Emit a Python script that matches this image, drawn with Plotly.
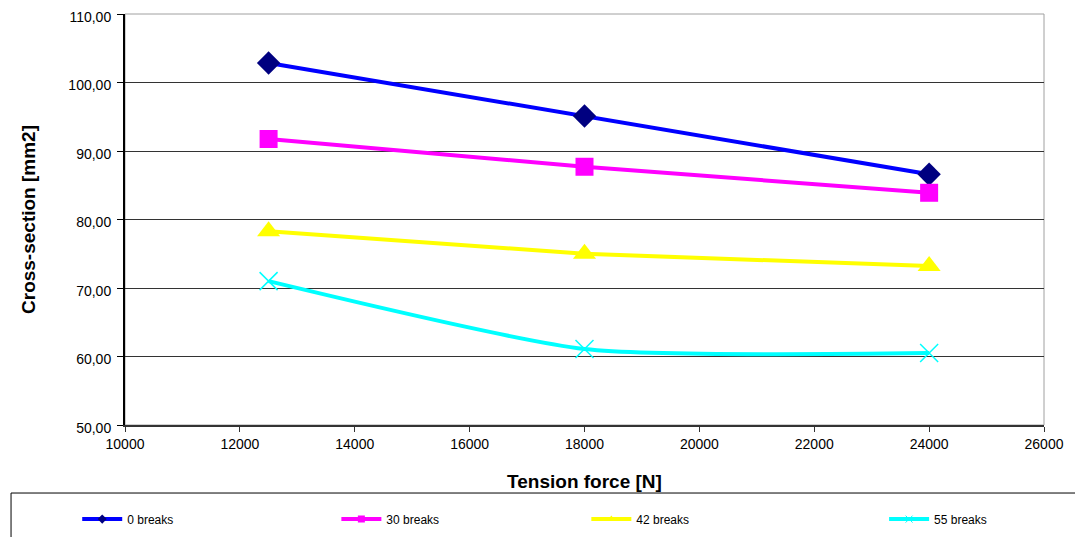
import plotly.graph_objects as go

x_force = [12500, 18000, 24000]
breaks_0 = [102.85, 95.1, 86.6]
breaks_30 = [91.75, 87.7, 83.9]
breaks_42 = [78.3, 75.0, 73.2]
breaks_55 = [71.0, 61.1, 60.5]
series_names = ["0 breaks", "30 breaks", "42 breaks", "55 breaks"]

x_ticks = [10000, 12000, 14000, 16000, 18000, 20000, 22000, 24000, 26000]
y_ticks = [50, 60, 70, 80, 90, 100, 110]

styles = [
    dict(line=dict(color="#0000FF", width=4), symbol="diamond", size=18, mcolor="#000080"),
    dict(line=dict(color="#FF00FF", width=4), symbol="square", size=18, mcolor="#FF00FF"),
    dict(line=dict(color="#FFFF00", width=4), symbol="triangle-up", size=20, mcolor="#FFFF00"),
    dict(line=dict(color="#00FFFF", width=4, shape="spline", smoothing=0.6), symbol="x-thin",
         size=18, mcolor="#00FFFF"),
]
series = [breaks_0, breaks_30, breaks_42, breaks_55]
legend_ids = ["legend", "legend2", "legend3", "legend4"]
legend_x = [-0.052, 0.23, 0.502, 0.826]

fig = go.Figure()
for name, vals, st in zip(series_names, series, styles):
    fig.add_trace(go.Scatter(x=x_force, y=vals, name=name, mode="lines+markers",
                             line=st["line"], showlegend=False,
                             marker=dict(symbol=st["symbol"], size=st["size"], color=st["mcolor"],
                                         line=dict(width=1.5 if st["symbol"] == "x-thin" else 0,
                                                   color=st["mcolor"]))))
# legend entries with small markers
for name, st, lid in zip(series_names, styles, legend_ids):
    fig.add_trace(go.Scatter(x=[None], y=[None], name=name, mode="lines+markers",
                             line=dict(color=st["line"]["color"], width=4), legend=lid,
                             marker=dict(symbol=st["symbol"], size=7, color=st["mcolor"],
                                         line=dict(width=1 if st["symbol"] == "x-thin" else 0,
                                                   color=st["mcolor"]))))

# plot area border (gray) and legend box
fig.add_shape(type="rect", xref="paper", yref="paper", x0=0, x1=1, y0=0, y1=1,
              line=dict(color="#A0A0A0", width=1), layer="below")
fig.add_shape(type="rect", xref="paper", yref="paper", x0=-0.124, x1=1.2, y0=-0.1655, y1=-0.4,
              line=dict(color="black", width=1))

legend_common = dict(orientation="h", xanchor="left", y=-0.229, yanchor="middle",
                     font=dict(size=12), bgcolor="rgba(0,0,0,0)", itemwidth=40)

fig.update_layout(
    width=1083, height=537,
    margin=dict(l=117, r=47, t=6, b=120, autoexpand=False),
    paper_bgcolor="white", plot_bgcolor="white",
    separators=",.",
    font=dict(family="Liberation Sans, Arial, sans-serif", size=14, color="black"),
    showlegend=True,
    xaxis=dict(range=[10000, 26000], tickvals=x_ticks, tickformat="d", automargin=False,
               showgrid=False, zeroline=False, showline=True, linecolor="#333333", linewidth=2,
               ticks="outside", ticklen=5, tickcolor="#333333", tickfont=dict(size=14),
               ticklabeloverflow="allow",
               title=dict(text="<b>Tension force [N]</b>", font=dict(size=19), standoff=24)),
    yaxis=dict(range=[50, 110], tickvals=y_ticks, tickformat=".2f", automargin=False,
               showgrid=True, gridcolor="#333333", gridwidth=1, zeroline=False,
               showline=True, linecolor="black", linewidth=2,
               ticks="outside", ticklen=6, tickcolor="black", tickfont=dict(size=14),
               ticklabelstandoff=3, ticklabelshift=3, ticklabeloverflow="allow",
               title=dict(text="<b>Cross-section [mm2]</b>", font=dict(size=19), standoff=28)),
)
for lid, lx in zip(legend_ids, legend_x):
    fig.update_layout({lid: dict(legend_common, x=lx)})

fig.write_html("out.html")
